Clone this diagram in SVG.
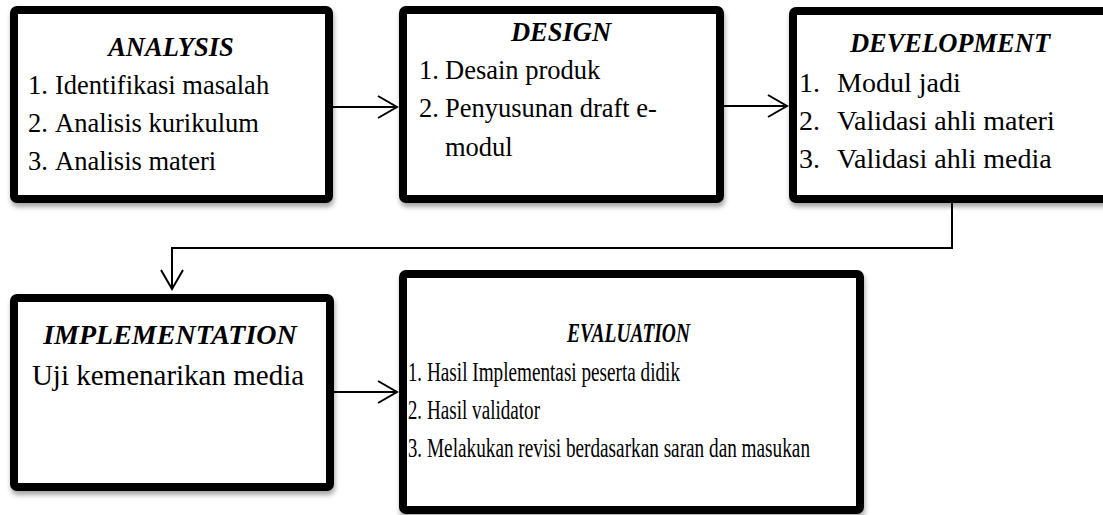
<svg xmlns="http://www.w3.org/2000/svg" width="1103" height="515" viewBox="0 0 1103 515">
<style>
.box{fill:#fff;stroke:#000;stroke-width:8}
.t{font-family:'Liberation Serif','Times New Roman',serif;font-size:26.5px;font-weight:bold;font-style:italic;fill:#000}
.b{font-family:'Liberation Serif','Times New Roman',serif;font-size:26.5px;fill:#000}
.d{font-size:28px}
.c{fill:none;stroke:#000;stroke-width:2}
</style>
<defs>
<filter id="sh" x="-5%" y="-5%" width="115%" height="120%">
<feDropShadow dx="1" dy="4" stdDeviation="2.5" flood-color="#000" flood-opacity="0.35"/>
</filter>
<marker id="ah" markerUnits="userSpaceOnUse" markerWidth="24" markerHeight="26" refX="20" refY="12" orient="auto">
<path d="M1,1 L20,12 L1,23" fill="none" stroke="#000" stroke-width="2"/>
</marker>
</defs>
<g id="connectors">
<line class="c" x1="333" y1="107" x2="397" y2="107" marker-end="url(#ah)"/>
<line class="c" x1="724" y1="106" x2="787" y2="106" marker-end="url(#ah)"/>
<polyline class="c" points="952,203 952,248 172,248 172,289" marker-end="url(#ah)"/>
<line class="c" x1="334" y1="392" x2="397" y2="392" marker-end="url(#ah)"/>
</g>
<g id="analysis">
<rect class="box" x="14" y="10" width="315" height="189" rx="3" filter="url(#sh)"/>
<text class="t" x="171" y="56" text-anchor="middle">ANALYSIS</text>
<text class="b" x="28" y="94">1.</text><text class="b" x="55" y="94">Identifikasi masalah</text>
<text class="b" x="28" y="132">2.</text><text class="b" x="55" y="132">Analisis kurikulum</text>
<text class="b" x="28" y="170">3.</text><text class="b" x="55" y="170">Analisis materi</text>
</g>
<g id="design">
<rect class="box" x="403" y="10" width="317" height="189" rx="3" filter="url(#sh)"/>
<text class="t" x="561" y="41" text-anchor="middle">DESIGN</text>
<text class="b" x="419" y="79">1.</text><text class="b" x="445" y="79">Desain produk</text>
<text class="b" x="419" y="117">2.</text><text class="b" x="445" y="117">Penyusunan draft e-</text>
<text class="b" x="445" y="156">modul</text>
</g>
<g id="development">
<rect class="box" x="793" y="11" width="317" height="188" rx="3" filter="url(#sh)"/>
<text class="t" x="950" y="52" text-anchor="middle">DEVELOPMENT</text>
<text class="b d" x="799" y="92">1.</text><text class="b d" x="837" y="92">Modul jadi</text>
<text class="b d" x="799" y="130">2.</text><text class="b d" x="837" y="130">Validasi ahli materi</text>
<text class="b d" x="799" y="168">3.</text><text class="b d" x="837" y="168">Validasi ahli media</text>
</g>
<g id="implementation">
<rect class="box" x="14" y="298" width="316" height="189" rx="3" filter="url(#sh)"/>
<text class="t" x="170" y="344" text-anchor="middle" style="font-size:28px">IMPLEMENTATION</text>
<text class="b" x="168" y="385" text-anchor="middle" style="font-size:29px">Uji kemenarikan media</text>
</g>
<g id="evaluation">
<rect class="box" x="403" y="274" width="457" height="236" rx="3" filter="url(#sh)"/>
<text class="t" x="567" y="342" textLength="123" lengthAdjust="spacingAndGlyphs">EVALUATION</text>
<text class="b" x="408" y="381" textLength="14" lengthAdjust="spacingAndGlyphs">1.</text><text class="b" x="427" y="381" textLength="253" lengthAdjust="spacingAndGlyphs">Hasil Implementasi peserta didik</text>
<text class="b" x="408" y="419" textLength="14" lengthAdjust="spacingAndGlyphs">2.</text><text class="b" x="427" y="419" textLength="113" lengthAdjust="spacingAndGlyphs">Hasil validator</text>
<text class="b" x="408" y="457" textLength="14" lengthAdjust="spacingAndGlyphs">3.</text><text class="b" x="427" y="457" textLength="383" lengthAdjust="spacingAndGlyphs">Melakukan revisi berdasarkan saran dan masukan</text>
</g>
</svg>
